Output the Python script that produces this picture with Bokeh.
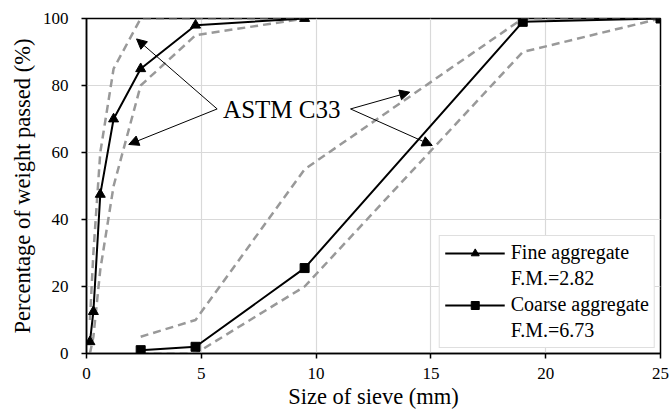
from bokeh.plotting import figure
from bokeh.models import (Range1d, FixedTicker, Legend, LegendItem, Arrow,
                          NormalHead, Label)
from bokeh.embed import file_html
from bokeh.resources import INLINE

# Sieve analysis results (sieve size in mm, percentage passing)
fine_size = [0.15, 0.3, 0.6, 1.18, 2.36, 4.75, 9.5]
fine_pass = [3.5, 12.5, 47.5, 70, 85, 98, 100]

coarse_size = [2.36, 4.75, 9.5, 19, 25]
coarse_pass = [1, 2, 25.5, 99, 100]

# ASTM C33 grading limits
fine_lim_size = [0.15, 0.3, 0.6, 1.18, 2.36, 4.75, 9.5]
fine_upper = [10, 30, 60, 85, 100, 100, 100]
fine_lower = [0, 5, 25, 50, 80, 95, 100]

coarse_lim_size = [2.36, 4.75, 9.5, 19, 25]
coarse_upper = [5, 10, 55, 100, 100]
coarse_lower = [0, 0, 20, 90, 100]

x_ticks = [0, 5, 10, 15, 20, 25]
y_ticks = [0, 20, 40, 60, 80, 100]

legend_rows = ["Fine aggregate", "F.M.=2.82", "Coarse aggregate", "F.M.=6.73"]
note_text = "ASTM C33"

# callouts: common tail point and arrow tips (data units)
left_tail = (5.69, 73.0)
left_tips = [(2.18, 93.9), (1.84, 62.4)]
right_tail = (11.5, 73.0)
right_tips = [(14.08, 78.0), (15.06, 62.1)]

FONT = "Liberation Serif"
LIMIT_COLOR = "#999999"

p = figure(width=670, height=413, output_backend="svg", toolbar_location=None,
           x_range=Range1d(0, 25), y_range=Range1d(0, 100),
           min_border_left=86, min_border_right=10, min_border_top=18,
           min_border_bottom=60)

p.outline_line_color = "black"
p.outline_line_width = 1.5

for ax in (p.xaxis, p.yaxis):
    ax.axis_line_color = "black"
    ax.axis_line_width = 1.5
    ax.major_tick_line_color = "black"
    ax.major_tick_line_width = 1.5
    ax.major_tick_out = 5
    ax.major_tick_in = 0
    ax.minor_tick_line_color = None
    ax.major_label_text_font = FONT
    ax.major_label_text_font_size = "17px"
    ax.major_label_text_color = "black"
    ax.axis_label_text_font = FONT
    ax.axis_label_text_font_size = "22.5px"
    ax.axis_label_text_font_style = "normal"
    ax.axis_label_text_color = "black"

p.xaxis.ticker = FixedTicker(ticks=x_ticks)
p.yaxis.ticker = FixedTicker(ticks=y_ticks)
p.xaxis.axis_label = "Size of sieve (mm)"
p.yaxis.axis_label = "Percentage of weight passed (%)"
p.xaxis.major_label_standoff = 9
p.yaxis.major_label_standoff = 13
p.xaxis.axis_label_standoff = 2
p.yaxis.axis_label_standoff = 5

p.grid.grid_line_color = "#d9d9d9"
p.grid.grid_line_width = 1.2

# grading limit envelopes
for xs, ys in ((fine_lim_size, fine_upper), (fine_lim_size, fine_lower),
               (coarse_lim_size, coarse_upper), (coarse_lim_size, coarse_lower)):
    p.line(xs, ys, line_color=LIMIT_COLOR, line_width=2.5, line_dash="8 5")

# measured gradation curves
fl = p.line(fine_size, fine_pass, line_color="black", line_width=2)
fm = p.scatter(fine_size, fine_pass, marker="triangle", size=10,
               fill_color="black", line_color="black")
cl = p.line(coarse_size, coarse_pass, line_color="black", line_width=2)
cm = p.scatter(coarse_size, coarse_pass, marker="square", size=9,
               fill_color="black", line_color="black")

# transparent placeholder so the F.M. rows get no glyph
blank = p.line([], [], line_alpha=0)

# callout arrows
for tail, tips in ((left_tail, left_tips), (right_tail, right_tips)):
    for tip in tips:
        p.add_layout(Arrow(x_start=tail[0], y_start=tail[1], x_end=tip[0], y_end=tip[1],
                           line_color="black", line_width=1,
                           end=NormalHead(size=10, fill_color="black", line_color="black")))

p.add_layout(Label(x=5.95, y=72.8, text=note_text, text_font=FONT,
                   text_font_size="25px", text_color="black",
                   text_baseline="alphabetic"))

legend = Legend(items=[LegendItem(label=legend_rows[0], renderers=[fl, fm]),
                       LegendItem(label=legend_rows[1], renderers=[blank]),
                       LegendItem(label=legend_rows[2], renderers=[cl, cm]),
                       LegendItem(label=legend_rows[3], renderers=[blank])],
                location="bottom_right")
legend.label_text_font = FONT
legend.label_text_font_size = "20px"
legend.label_text_color = "black"
legend.glyph_width = 60
legend.label_standoff = 6
legend.padding = 5
legend.margin = 5
legend.spacing = 3
legend.border_line_color = "#bfbfbf"
legend.border_line_width = 1.5
legend.background_fill_color = "white"
legend.background_fill_alpha = 1
p.add_layout(legend)

open("out.html", "w").write(file_html(p, INLINE))
